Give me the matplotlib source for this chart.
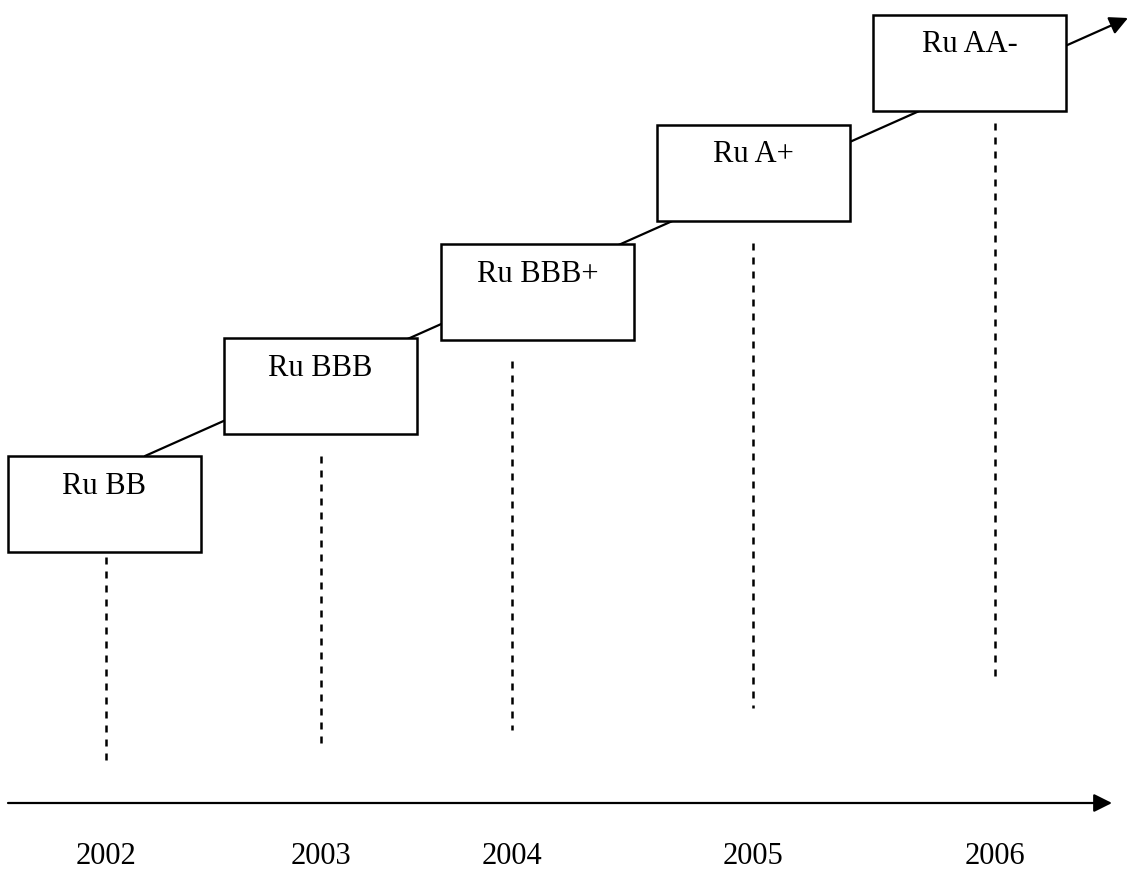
import matplotlib
matplotlib.use("Agg")
import matplotlib.pyplot as plt
from matplotlib.patches import Rectangle

# Data
years = ["2002", "2003", "2004", "2005", "2006"]
ratings = ["Ru BB", "Ru BBB", "Ru BBB+", "Ru A+", "Ru AA-"]

# Layout (pixel coordinates, y downwards)
box_left = [8, 224, 441, 657, 873]
box_top = [456, 338, 244, 125, 15]
box_w = 193
box_h = 96
year_x = [106, 321, 512, 753, 995]
dash_top = [557, 456, 361, 243, 123]
dash_bottom = [760, 743, 730, 708, 680]

plt.rcParams['font.family'] = ['Liberation Serif', 'DejaVu Serif']

fig = plt.figure(figsize=(11.3, 8.69), dpi=100)
ax = fig.add_axes([0, 0, 1, 1])
ax.set_xlim(0, 1130)
ax.set_ylim(869, 0)
ax.axis('off')

# Diagonal trend arrow (behind boxes)
ax.annotate('', xy=(1128, 18), xytext=(145, 456),
            arrowprops=dict(arrowstyle='-|>,head_length=1.0,head_width=0.5',
                            mutation_scale=11, lw=1.6, color='black',
                            shrinkA=0, shrinkB=0), zorder=1)

# Boxes with ratings
for x, y, r in zip(box_left, box_top, ratings):
    ax.add_patch(Rectangle((x, y), box_w, box_h, facecolor='white',
                           edgecolor='black', lw=1.8, zorder=2))
    ax.text(x + box_w / 2, y + 30, r, ha='center', va='center',
            fontsize=22, zorder=3)

# Dashed vertical lines
for x, t, b in zip(year_x, dash_top, dash_bottom):
    ax.plot([x, x], [t, b], color='black', lw=1.8, dashes=(2.8, 2.8), zorder=1)

# Horizontal time axis arrow
ax.annotate('', xy=(1112, 803), xytext=(8, 803),
            arrowprops=dict(arrowstyle='-|>,head_length=1.0,head_width=0.5',
                            mutation_scale=11, lw=1.6, color='black',
                            shrinkA=0, shrinkB=0))

# Year labels
for x, yr in zip(year_x, years):
    ax.text(x, 856, yr, ha='center', va='center', fontsize=22)

fig.savefig('out.png', dpi=100)
